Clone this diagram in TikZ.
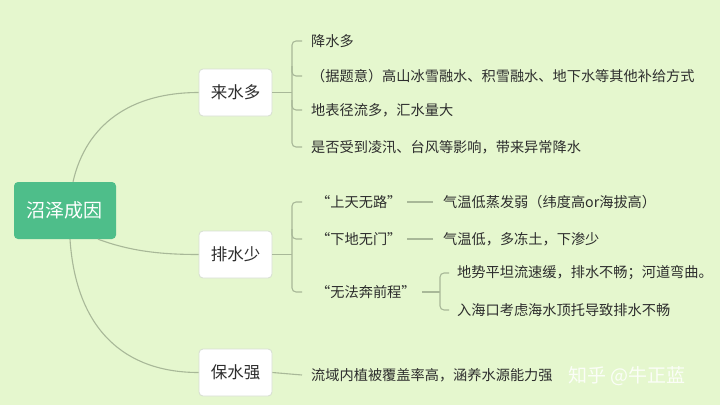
\documentclass[tikz,border=0pt]{standalone}
\usepackage{fontspec}
\setmainfont{Noto Sans CJK SC}
\definecolor{bg}{RGB}{229,247,206}
\definecolor{rootc}{RGB}{78,190,138}
\definecolor{linec}{RGB}{168,184,152}
\definecolor{txt}{RGB}{45,45,45}
\definecolor{boxb}{RGB}{215,222,210}
\tikzset{
  rootbox/.style={fill=rootc,rounded corners=4pt,text=white,font=\fontsize{19}{22}\selectfont,minimum width=102pt,minimum height=57pt,inner sep=0pt},
  mainbox/.style={fill=white,draw=boxb,line width=0.8pt,rounded corners=4pt,text=txt,font=\fontsize{16.5}{20}\selectfont,minimum width=73pt,minimum height=47pt,inner sep=0pt},
  leaf/.style={anchor=west,inner sep=0pt,text=txt,font=\fontsize{14.2}{17}\selectfont},
  conn/.style={draw=linec,line width=1.1pt},
  brk/.style={draw=linec,line width=1.1pt,rounded corners=4pt},
}
\begin{document}
\begin{tikzpicture}[x=1pt,y=-1pt]
\fill[bg] (0,0) rectangle (720,405);
\useasboundingbox (0,0) rectangle (720,405);

\node[rootbox] (root) at (65,210.5) {沼泽成因};
\node[mainbox] (lai) at (235.5,92.5) {来水多};
\node[mainbox] (pai) at (235.5,254.5) {排水少};
\node[mainbox] (bao) at (235.5,372.5) {保水强};

% level-1 curves
\draw[conn] ([xshift=8pt]root.north) .. controls (86,125) and (130,92.5) .. (lai.west);
\draw[conn] ([xshift=33pt]root.south) .. controls (130,251) and (160,254.5) .. (pai.west);
\draw[conn] ([xshift=5pt]root.south) .. controls (76,330) and (125,372.5) .. (bao.west);

% 来水多 leaves
\node[leaf] (l1) at (311,41) {降水多};
\node[leaf] (l2) at (311,76) {（据题意）高山冰雪融水、积雪融水、地下水等其他补给方式};
\node[leaf] (l3) at (311,110) {地表径流多，汇水量大};
\node[leaf] (l4) at (311,147) {是否受到凌汛、台风等影响，带来异常降水};
\coordinate (lj) at (292,92.5);
\draw[conn] (lai.east) -- (lj);
\draw[brk] ([xshift=-9pt]l1.west) -- (292,41) -- (292,147) -- ([xshift=-9pt]l4.west);
\draw[brk] (292,66) |- ([xshift=-9pt]l2.west);
\draw[brk] (292,100) |- ([xshift=-9pt]l3.west);

% 排水少 leaves
\node[leaf] (p1) at (316,202) {“上天无路”};
\node[leaf] (p2) at (316,239) {“下地无门”};
\node[leaf] (p3) at (316,292) {“无法奔前程”};
\coordinate (pj) at (292,254.5);
\draw[conn] (pai.east) -- (pj);
\draw[brk] ([xshift=-14pt]p1.west) -- (292,202) -- (292,292) -- ([xshift=-14pt]p3.west);
\draw[brk] (292,229) |- ([xshift=-14pt]p2.west);

\node[leaf] (q1) at (443,202) {气温低蒸发弱（纬度高or海拔高）};
\node[leaf] (q2) at (443,239) {气温低，多冻土，下渗少};
\draw[conn] ([xshift=-10pt]q1.west) -- ++(-26,0);
\draw[conn] ([xshift=-10pt]q2.west) -- ++(-26,0);

\node[leaf] (r1) at (457,273) {地势平坦流速缓，排水不畅；河道弯曲。};
\node[leaf] (r2) at (457,310) {入海口考虑海水顶托导致排水不畅};
\coordinate (rj) at (440,292);
\draw[conn] ([xshift=6pt]p3.east) -- (rj);
\draw[brk] ([xshift=-8pt]r1.west) -- (440,273) -- (440,310) -- ([xshift=-8pt]r2.west);

% 保水强 leaf
\node[leaf] (b1) at (311,375) {流域内植被覆盖率高，涵养水源能力强};
\draw[conn] (bao.east) -- ([xshift=-9pt]b1.west);

% watermark
\node[anchor=west,inner sep=0pt,text=white,opacity=0.85,font=\fontsize{19}{22}\selectfont] (wm) at (568,376) {知乎 @牛正蓝};
\end{tikzpicture}
\end{document}
